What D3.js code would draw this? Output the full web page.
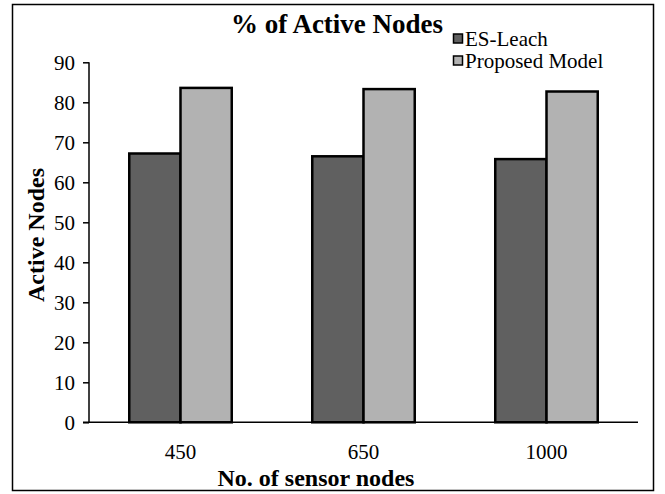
<!DOCTYPE html>
<html><head><meta charset="utf-8">
<script src="https://cdn.jsdelivr.net/npm/d3@7/dist/d3.min.js"></script>
<style>body{margin:0;background:#fff}svg{display:block;font-family:"Liberation Serif","Times New Roman",serif}</style>
</head><body>
<script>
const categories = ["450", "650", "1000"];
const seriesNames = ["ES-Leach", "Proposed Model"];
const esLeach = [67.2, 66.5, 65.8];
const proposed = [83.6, 83.3, 82.7];
const yTicks = [0, 10, 20, 30, 40, 50, 60, 70, 80, 90];
const colors = ["#606060", "#b2b2b2"];

const W = 665, H = 494;
const svg = d3.select("body").append("svg").attr("width", W).attr("height", H);
svg.append("rect").attr("x", 12.5).attr("y", 4.5).attr("width", 641).attr("height", 486)
  .attr("fill", "#fff").attr("stroke", "#000").attr("stroke-width", 1.5);

const pLeft = 89, pRight = 638, pTop = 62.3, pBottom = 422.3;
const x0 = d3.scaleBand().domain(categories).range([pLeft, pRight]).paddingInner(0.44).paddingOuter(0.22);
const x1 = d3.scaleBand().domain(seriesNames).range([0, x0.bandwidth()]);
const y = d3.scaleLinear().domain([0, 90]).range([pBottom, pTop]);

const data = categories.map((c, i) => ({cat: c, vals: [esLeach[i], proposed[i]]}));

const g = svg.append("g");
g.selectAll("g.grp").data(data).join("g").attr("class", "grp")
  .attr("transform", d => `translate(${x0(d.cat)},0)`)
  .selectAll("rect").data(d => d.vals.map((v, j) => ({v, j})))
  .join("rect")
  .attr("x", d => x1(seriesNames[d.j]))
  .attr("y", d => y(d.v))
  .attr("width", x1.bandwidth())
  .attr("height", d => pBottom - y(d.v))
  .attr("fill", d => colors[d.j])
  .attr("stroke", "#000").attr("stroke-width", 2.5);

// y axis
const yAxis = d3.axisLeft(y).tickValues(yTicks).tickSize(6).tickPadding(8);
const ya = svg.append("g").attr("transform", `translate(${pLeft},0)`).call(yAxis);
ya.select(".domain").attr("stroke-width", 1.5).attr("d", `M-0,${pTop}V${pBottom}`);
ya.selectAll(".tick line").attr("stroke-width", 1.5);
ya.selectAll("text").attr("font-size", 21).attr("font-family", "Liberation Serif").attr("fill", "#000");

// x axis
const xAxis = d3.axisBottom(x0).tickSize(0).tickPadding(22);
const xa = svg.append("g").attr("transform", `translate(0,${pBottom})`).call(xAxis);
xa.select(".domain").attr("stroke-width", 1.5).attr("d", `M${pLeft - 6},0H${pRight}`);
xa.selectAll("text").attr("font-size", 21).attr("font-family", "Liberation Serif").attr("fill", "#000");

// titles
svg.append("text").attr("x", 337).attr("y", 33).attr("text-anchor", "middle")
  .attr("font-size", 27).attr("font-weight", "bold").text("% of Active Nodes");
svg.append("text").attr("x", 316).attr("y", 486).attr("text-anchor", "middle")
  .attr("font-size", 24).attr("font-weight", "bold").text("No. of sensor nodes");
svg.append("text").attr("transform", "translate(44,235) rotate(-90)").attr("text-anchor", "middle")
  .attr("font-size", 24).attr("font-weight", "bold").text("Active Nodes");

// legend
const leg = svg.append("g");
seriesNames.forEach((n, i) => {
  const ly = 46 + i * 22;
  leg.append("rect").attr("x", 453.5).attr("y", ly - 12).attr("width", 9).attr("height", 9)
    .attr("fill", colors[i]).attr("stroke", "#000").attr("stroke-width", 1.5);
  leg.append("text").attr("x", 465).attr("y", ly).attr("font-size", 21).text(n);
});
</script>
</body></html>
